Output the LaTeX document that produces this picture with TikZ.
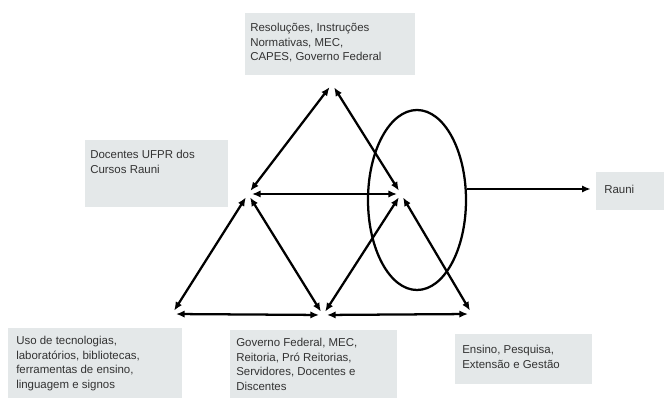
\documentclass[tikz,border=0pt]{standalone}
\usepackage{fontspec}
\setmainfont{Liberation Sans}
\usepackage{tikz}
\usetikzlibrary{arrows.meta, shapes.geometric}

\begin{document}
\begin{tikzpicture}[x=0.75pt, y=-0.75pt,
  font=\fontsize{8.6}{11}\selectfont,
  dbl/.style={{Latex[length=6.5pt,width=5.5pt]}-{Latex[length=6.5pt,width=5.5pt]}, line width=1.7pt, shorten <=3pt, shorten >=3pt},
  txt/.style={anchor=north west, inner sep=0pt, align=left, text=black!80}]
\definecolor{boxGray}{HTML}{E4E8E9}
\useasboundingbox (0,0) rectangle (664,398);
% caixas
\fill[boxGray] (245,13)  rectangle (415,75);
\fill[boxGray] (85,140)  rectangle (228,207);
\fill[boxGray] (8,328)   rectangle (182,398);
\fill[boxGray] (230,330) rectangle (397,398);
\fill[boxGray] (455,334) rectangle (592,384);
\fill[boxGray] (596,172) rectangle (664,210);
\node[txt] (normas) at (250,23) {Resoluções, Instruções\\Normativas, MEC,\\CAPES, Governo Federal};
\node[txt] (docentes) at (90,150) {Docentes UFPR dos\\Cursos Rauni};
\node[txt] (uso) at (16,336) {Uso de tecnologias,\\laboratórios, bibliotecas,\\ferramentas de ensino,\\linguagem e signos};
\node[txt] (governo) at (236,338) {Governo Federal, MEC,\\Reitoria, Pró Reitorias,\\Servidores, Docentes e\\Discentes};
\node[txt] (ensino) at (462,345) {Ensino, Pesquisa,\\Extensão e Gestão};
\node[txt, anchor=west] (rauni) at (604,189) {Rauni};
% vertices
\coordinate (T)  at (332,84);
\coordinate (L)  at (248,194);
\coordinate (R)  at (401,194);
\coordinate (BL) at (172,314);
\coordinate (BM) at (323,315);
\coordinate (BR) at (472,314);
\draw[dbl] (L) -- (T);
\draw[dbl] (T) -- (R);
\draw[dbl] (L) -- (R);
\draw[dbl] (BL) -- (L);
\draw[dbl] (L) -- (BM);
\draw[dbl] (BM) -- (R);
\draw[dbl] (R) -- (BR);
\draw[dbl] (BL) -- (BM);
\draw[dbl] (BM) -- (BR);
% elipse
\node[draw, line width=1.7pt, ellipse, minimum width=73.5pt, minimum height=135pt, inner sep=0pt] (elipse) at (417,200) {};
\draw[line width=1.7pt, -{Latex[length=6.5pt,width=5.5pt]}, shorten >=10pt] (elipse.east |- rauni.west) -- (rauni.west);
\end{tikzpicture}
\end{document}
